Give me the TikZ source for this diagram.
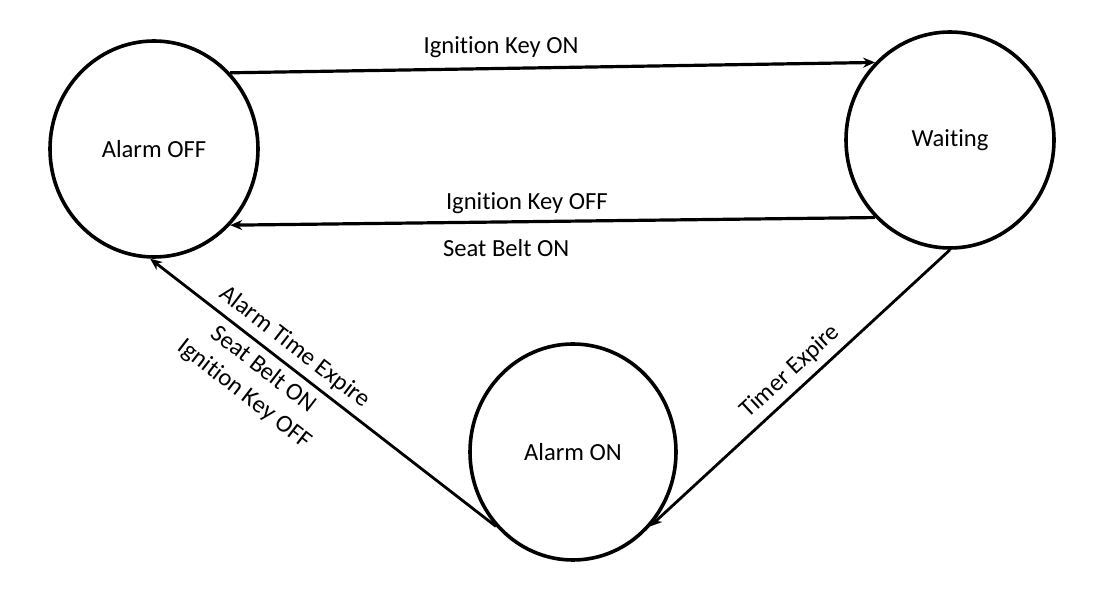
\documentclass[tikz,border=0pt]{standalone}
\usepackage{fontspec}
\setmainfont[Ligatures={NoCommon,NoContextual,NoRare}]{Carlito}
\usetikzlibrary{arrows.meta, shapes.geometric}

\begin{document}
\begin{tikzpicture}[
  x=0.5pt, y=0.5pt,
  circ/.style={draw, ellipse, line width=1.8pt, minimum width=104pt,
               minimum height=108pt, inner sep=0pt,
               font=\fontsize{12.3}{15.5}\selectfont},
  lbl/.style={font=\fontsize{12.3}{15.5}\selectfont},
  >={Stealth[length=6pt, width=5pt]}]
\useasboundingbox (0,0) rectangle (1114,594);
\node[circ] (off)  at (154,445) {Alarm OFF};
\node[circ] (wait) at (950,454) {Waiting};
\node[circ, minimum width=103pt] (on) at (573,142) {Alarm ON};
\draw[->, line width=1.6pt] (off.45) --
  node[lbl, above=1pt, pos=0.42] {Ignition Key ON} (wait.134);
\draw[->, line width=1.6pt] (wait.226) --
  node[lbl, above, pos=0.54] {Ignition Key OFF}
  node[lbl, below=4.5pt, pos=0.572] {Seat Belt ON} (off.315);
\draw[->, line width=1.4pt] (wait.270) --
  node[lbl, sloped, above, pos=0.49] {Timer Expire} (on.316);
\draw[->, line width=1.4pt] (on.224) --
  node[lbl, sloped, above, pos=0.615] {Alarm Time Expire}
  node[lbl, sloped, below, pos=0.64, align=center] {Seat Belt ON\\Ignition Key OFF} (off.268);
\end{tikzpicture}
\end{document}
